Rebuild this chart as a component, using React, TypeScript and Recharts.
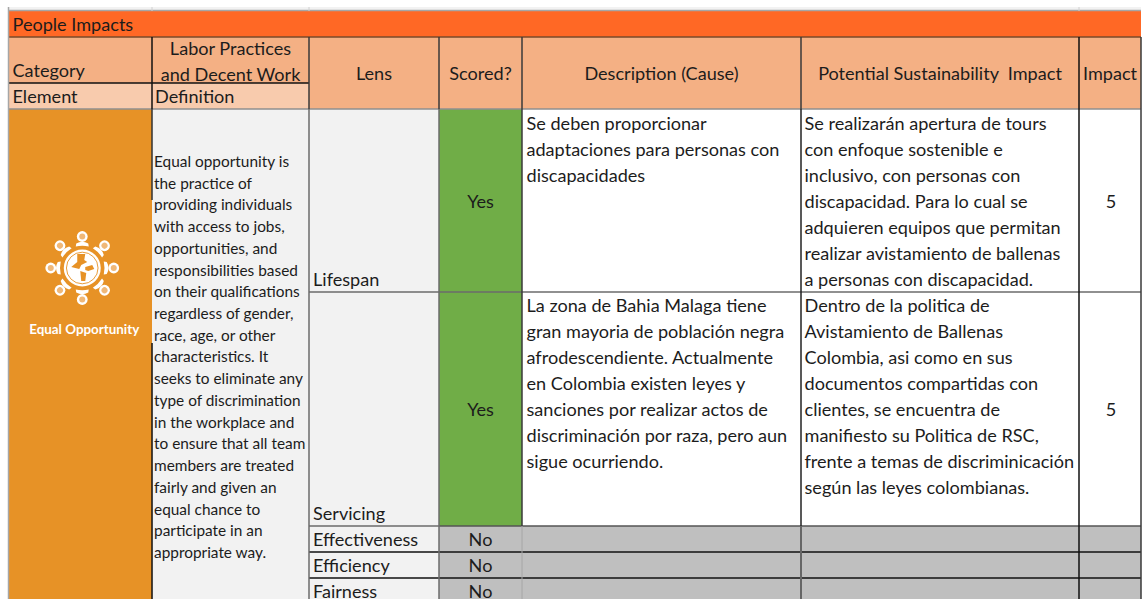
import { ComposedChart, ReferenceArea, ReferenceLine, XAxis, YAxis } from "recharts";

const WIDTH = 1142;
const HEIGHT = 599;
const FONT = "Lato, sans-serif";

// ── Table content ─────────────────────────────────────────────────────────────
const BANNER = "People Impacts";
const CATEGORY = "Category";
const ELEMENT = "Element";
const DEFINITION_HEAD = "Definition";
const LABOR_HEAD = ["Labor Practices", "and Decent Work"];
const COLUMN_HEADS = ["Lens", "Scored?", "Description (Cause)", "Potential Sustainability  Impact", "Impact"];
const LENSES = ["Lifespan", "Servicing", "Effectiveness", "Efficiency", "Fairness"];
const SCORED = ["Yes", "Yes", "No", "No", "No"];
const IMPACTS = ["5", "5"];
const ELEMENT_NAME = "Equal Opportunity";

const DEFINITION = [
  "Equal opportunity is",
  "the practice of",
  "providing individuals",
  "with access to jobs,",
  "opportunities, and",
  "responsibilities based",
  "on their qualifications",
  "regardless of gender,",
  "race, age, or other",
  "characteristics. It",
  "seeks to eliminate any",
  "type of discrimination",
  "in the workplace and",
  "to ensure that all team",
  "members are treated",
  "fairly and given an",
  "equal chance to",
  "participate in an",
  "appropriate way.",
];

const DESCRIPTIONS = [
  ["Se deben proporcionar", "adaptaciones para personas con", "discapacidades"],
  [
    "La zona de Bahia Malaga tiene",
    "gran mayoria de población negra",
    "afrodescendiente. Actualmente",
    "en Colombia existen leyes y",
    "sanciones por realizar actos de",
    "discriminación por raza, pero aun",
    "sigue ocurriendo.",
  ],
];

const POTENTIAL_IMPACTS = [
  [
    "Se realizarán apertura de tours",
    "con enfoque sostenible e",
    "inclusivo, con personas con",
    "discapacidad. Para lo cual se",
    "adquieren equipos que permitan",
    "realizar avistamiento de ballenas",
    "a personas con discapacidad.",
  ],
  [
    "Dentro de la politica de",
    "Avistamiento de Ballenas",
    "Colombia, asi como en sus",
    "documentos compartidas con",
    "clientes, se encuentra de",
    "manifiesto su Politica de RSC,",
    "frente a temas de discriminicación",
    "según las leyes colombianas.",
  ],
];

// ── Table layout ──────────────────────────────────────────────────────────────
const COLS = [8.5, 152, 309, 439, 522, 801, 1079, 1141];
const ROWS = { top: 7, bannerTop: 11, bannerBottom: 37, catBottom: 83, headBottom: 109 };
const BODY_ROWS = [109, 292, 526, 552, 578, 610];

const ORANGE_BANNER = "#FF6825";
const HEADER = "#F4B084";
const HEADER_LIGHT = "#F8CBAD";
const ELEMENT_FILL = "#E79226";
const LIGHT = "#F2F2F2";
const GREEN = "#70AD47";
const GREY = "#BFBFBF";
const INK = "#1c1c1c";
const BLACK_LINE = "#111";
const GREY_LINE = "#6b6b6b";

type Box = { x?: number; y?: number; width?: number; height?: number };

type TextOpts = {
  lines: string[];
  align?: "start" | "middle";
  offset: number; // baseline of first line, from cell top
  lineHeight?: number;
  size?: number;
  fill?: string;
  weight?: number;
  pad?: number;
  shift?: number;
};

const textShape =
  ({ lines, align = "start", offset, lineHeight = 26, size = 18.1, fill = INK, weight = 400, pad = 4, shift = 0 }: TextOpts) =>
  (props: Box) => {
    const x = props.x ?? 0;
    const y = props.y ?? 0;
    const w = props.width ?? 0;
    const tx = (align === "middle" ? x + w / 2 : x + pad) + shift;
    return (
      <text x={tx} y={y + offset} textAnchor={align} fontFamily={FONT} fontSize={size} fontWeight={weight} fill={fill}>
        {lines.map((line, i) => (
          <tspan key={i} x={tx} y={y + offset + i * lineHeight} xmlSpace="preserve">
            {line}
          </tspan>
        ))}
      </text>
    );
  };

const PERSON_ANGLES = [0, 45, 90, 135, 180, 225, 270, 315];

// Globe with eight people round it, above the element name
const iconShape = (props: Box) => {
  const cx = (props.x ?? 0) + (props.width ?? 0) / 2 + 2;
  const cy = (props.y ?? 0) + 159;
  return (
    <g>
      {PERSON_ANGLES.map((a) => (
        <g key={a} transform={`rotate(${a} ${cx} ${cy})`}>
          <circle cx={cx} cy={cy - 31.5} r={5.4} fill="#fff" />
          <circle cx={cx} cy={cy - 31.5} r={3} fill="#F0B878" />
          <path
            d={`M${cx - 6.5} ${cy - 21.5} L${cx - 6} ${cy - 24.5} Q${cx} ${cy - 28} ${cx + 6} ${cy - 24.5} L${cx + 6.5} ${cy - 21.5} Q${cx} ${cy - 23} ${cx - 6.5} ${cy - 21.5}Z`}
            fill="#fff"
          />
        </g>
      ))}
      <circle cx={cx} cy={cy} r={18.5} fill="#fff" />
      <circle cx={cx} cy={cy} r={15.8} fill="none" stroke={ELEMENT_FILL} strokeWidth={0.9} />
      <path
        d={`M${cx - 5} ${cy - 14} L${cx + 3} ${cy - 14} L${cx + 2} ${cy - 8} L${cx + 5} ${cy - 6} L${cx - 1} ${cy - 3} L${cx - 3} ${cy + 1} L${cx - 11} ${cy - 1} L${cx - 5} ${cy - 6}Z`}
        fill={ELEMENT_FILL}
      />
      <path
        d={`M${cx + 3} ${cy - 1} L${cx + 10} ${cy - 3} L${cx + 12} ${cy + 1} L${cx + 6} ${cy + 3} L${cx + 3} ${cy + 2}Z`}
        fill={ELEMENT_FILL}
      />
      <path d={`M${cx - 2} ${cy + 3} L${cx + 4} ${cy + 5} L${cx + 3} ${cy + 13} L${cx - 1} ${cy + 13}Z`} fill={ELEMENT_FILL} />
    </g>
  );
};

const Fill = (x1: number, x2: number, y1: number, y2: number, fill: string) => (
  <ReferenceArea key={`f${x1}-${y1}`} x1={x1} x2={x2} y1={y1} y2={y2} fill={fill} fillOpacity={1} stroke="none" ifOverflow="hidden" />
);

const HLine = (y: number, x1: number, x2: number, stroke: string, w = 1.5) => (
  <ReferenceLine key={`h${y}-${x1}`} segment={[{ x: x1, y }, { x: x2, y }]} stroke={stroke} strokeWidth={w} ifOverflow="hidden" />
);

const VLine = (x: number, y1: number, y2: number, stroke: string, w = 1.5) => (
  <ReferenceLine key={`v${x}-${y1}`} segment={[{ x, y: y1 }, { x, y: y2 }]} stroke={stroke} strokeWidth={w} ifOverflow="hidden" />
);

const Text = (key: string, x1: number, x2: number, y1: number, y2: number, opts: TextOpts) => (
  <ReferenceArea key={key} x1={x1} x2={x2} y1={y1} y2={y2} fillOpacity={0} ifOverflow="visible" shape={textShape(opts)} />
);

export default function App() {
  const [c0, c1, c2, c3, c4, c5, c6, c7] = COLS;
  const { top, bannerTop, bannerBottom, catBottom, headBottom } = ROWS;

  return (
    <div style={{ position: "absolute", left: 0, top: 0, width: WIDTH, height: HEIGHT, overflow: "hidden", background: "#fff" }}>
      <ComposedChart width={WIDTH} height={HEIGHT} margin={{ top: 0, right: 0, bottom: 0, left: 0 }} data={[{ x: 0 }]}>
        <XAxis type="number" dataKey="x" domain={[0, WIDTH]} hide allowDataOverflow />
        <YAxis type="number" domain={[0, HEIGHT]} reversed hide allowDataOverflow />

        {/* Cell fills */}
        {Fill(c0, c7, top, bannerTop, LIGHT)}
        {Fill(c0, c7, bannerTop, bannerBottom, ORANGE_BANNER)}
        {Fill(c0, c7, bannerBottom, headBottom, HEADER)}
        {Fill(c0, c2, catBottom, headBottom, HEADER_LIGHT)}
        {Fill(c0, c1, headBottom, HEIGHT, ELEMENT_FILL)}
        {Fill(c1, c3, headBottom, HEIGHT, LIGHT)}
        {Fill(c3, c4, BODY_ROWS[0], BODY_ROWS[2], GREEN)}
        {Fill(c3, c7, BODY_ROWS[2], HEIGHT, GREY)}

        {/* Grid lines */}
        {HLine(bannerTop - 0.5, c0, c7, "#a6a6a6")}
        {HLine(bannerBottom, c0, c7, "#7a4a2a")}
        {HLine(catBottom, c0, c2, BLACK_LINE)}
        {HLine(headBottom, c0, c7, "#8f8f8f")}
        {HLine(BODY_ROWS[1], c2, c7, GREY_LINE)}
        {HLine(BODY_ROWS[2], c2, c3, GREY_LINE)}
        {HLine(BODY_ROWS[2] + 0.01, c3, c7, "#555")}
        {HLine(BODY_ROWS[3], c2, c7, BLACK_LINE)}
        {HLine(BODY_ROWS[4], c2, c7, BLACK_LINE)}
        {VLine(c0, top, HEIGHT, "#a6a6a6")}
        {VLine(c1, top, bannerTop, "#d0d0d0", 1)}
        {VLine(c2, top, bannerTop, "#d0d0d0", 1)}
        {VLine(c6, top, bannerTop, "#d0d0d0", 1)}
        {VLine(c1, bannerBottom, headBottom, BLACK_LINE)}
        {VLine(c2, bannerBottom, headBottom, "#3a3a3a")}
        {VLine(c3, bannerBottom, headBottom, "#3a3a3a")}
        {VLine(c4, bannerBottom, headBottom, "#3a3a3a")}
        {VLine(c5, bannerBottom, headBottom, "#3a3a3a")}
        {VLine(c6, bannerBottom, headBottom, BLACK_LINE)}
        {VLine(c7, bannerBottom, HEIGHT, "#3a3a3a")}
        {VLine(c1 + 0.01, headBottom, 200, "#333")}
        {VLine(c1 + 0.02, 343, HEIGHT, BLACK_LINE)}
        {VLine(c2, headBottom, HEIGHT, GREY_LINE)}
        {VLine(c3, headBottom, HEIGHT, GREY_LINE)}
        {VLine(c4, headBottom, BODY_ROWS[2], "#3a3a3a")}
        {VLine(c4 + 0.01, BODY_ROWS[2], HEIGHT, "#a6a6a6", 1)}
        {VLine(c5, headBottom, BODY_ROWS[2], "#222")}
        {VLine(c5 + 0.01, BODY_ROWS[2], HEIGHT, "#666", 2)}
        {VLine(c6, headBottom, HEIGHT, BLACK_LINE)}

        {/* Element column */}
        <ReferenceArea x1={c0} x2={c1} y1={headBottom} y2={HEIGHT} fillOpacity={0} shape={iconShape} ifOverflow="visible" />
        {Text("element-name", c0, c1, headBottom, HEIGHT, {
          lines: [ELEMENT_NAME],
          align: "middle",
          offset: 225,
          size: 13.4,
          weight: 700,
          fill: "#fff",
          shift: 4,
        })}

        {/* Header text */}
        {Text("banner", c0, c7, bannerTop, bannerBottom, { lines: [BANNER], offset: 20, pad: 4 })}
        {Text("category", c0, c1, bannerBottom, catBottom, { lines: [CATEGORY], offset: 40, pad: 4 })}
        {Text("element", c0, c1, catBottom, headBottom, { lines: [ELEMENT], offset: 20, pad: 4 })}
        {Text("labor", c1, c2, bannerBottom, catBottom, { lines: LABOR_HEAD, align: "middle", offset: 18 })}
        {Text("definition-head", c1, c2, catBottom, headBottom, { lines: [DEFINITION_HEAD], offset: 20, pad: 3 })}
        {COLUMN_HEADS.map((head, i) =>
          Text(`head${i}`, COLS[i + 2], COLS[i + 3], bannerBottom, headBottom, {
            lines: [head],
            align: "middle",
            offset: 43,
          })
        )}

        {/* Definition */}
        {Text("definition", c1, c2, headBottom, HEIGHT, {
          lines: DEFINITION,
          offset: 58,
          lineHeight: 21.72,
          size: 15.4,
          pad: 2,
        })}

        {/* Body rows */}
        {LENSES.map((lens, i) =>
          Text(`lens${i}`, c2, c3, BODY_ROWS[i], BODY_ROWS[i + 1], {
            lines: [lens],
            offset: BODY_ROWS[i + 1] - BODY_ROWS[i] - (i === LENSES.length - 1 ? 12 : 6),
          })
        )}
        {SCORED.map((value, i) =>
          Text(`scored${i}`, c3, c4, BODY_ROWS[i], BODY_ROWS[i + 1], {
            lines: [value],
            align: "middle",
            offset: i === LENSES.length - 1 ? 20 : (BODY_ROWS[i + 1] - BODY_ROWS[i]) / 2 + 7,
          })
        )}
        {DESCRIPTIONS.map((lines, i) =>
          Text(`desc${i}`, c4, c5, BODY_ROWS[i], BODY_ROWS[i + 1], { lines, offset: 21 - i, pad: 4.5 })
        )}
        {POTENTIAL_IMPACTS.map((lines, i) =>
          Text(`pot${i}`, c5, c6, BODY_ROWS[i], BODY_ROWS[i + 1], { lines, offset: 21 - i, pad: 3.5 })
        )}
        {IMPACTS.map((value, i) =>
          Text(`impact${i}`, c6, c7, BODY_ROWS[i], BODY_ROWS[i + 1], {
            lines: [value],
            align: "middle",
            offset: (BODY_ROWS[i + 1] - BODY_ROWS[i]) / 2 + 7,
            shift: 1,
          })
        )}
      </ComposedChart>
    </div>
  );
}
